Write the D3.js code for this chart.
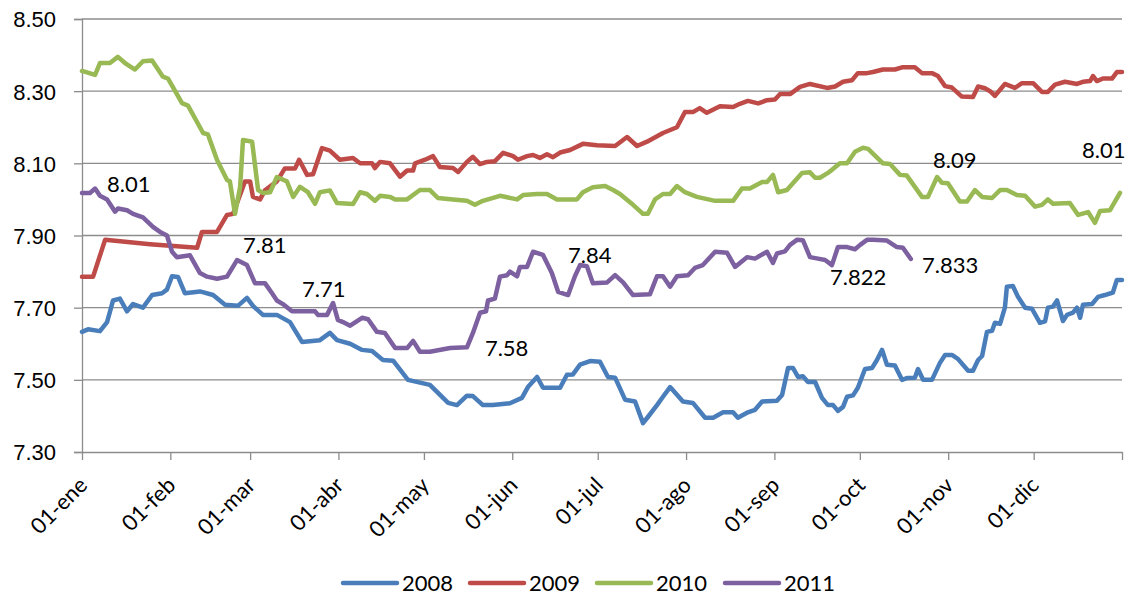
<!DOCTYPE html>
<html lang="es">
<head>
<meta charset="UTF-8">
<title>Tipo de cambio 2008-2011</title>
<script src="https://d3js.org/d3.v7.min.js"></script>
<style>
    body { margin: 0; background: #fff; }
    svg { display: block; font-family: Lato, "Open Sans", sans-serif; }
    .grid line { stroke: #8c8c8c; stroke-width: 1.3; }
    .axis path, .axis line { stroke: #8c8c8c; stroke-width: 1.3; }
    .axis text { font-size: 22px; fill: #000; }
    .serie { fill: none; stroke-width: 4.5; stroke-linejoin: round; stroke-linecap: round; }
    .etiqueta { font-size: 22px; fill: #000; }
    .leyenda text { font-size: 22px; fill: #000; }
</style>
</head>
<body>
<svg></svg>
<script>
    // x = day of year (0 = 01-ene), y = value
    const s2008 = [
        [0,7.633],[2.1,7.64],[6.3,7.635],[8.8,7.66],[10.9,7.72],[13.3,7.725],[15.8,7.69],[17.9,7.71],
        [21.4,7.70],[24.6,7.735],[28.1,7.74],[29.8,7.75],[31.6,7.787],[33.7,7.785],[36.1,7.74],[41.4,7.745],
        [46.0,7.735],[50.2,7.708],[54.7,7.705],[57.9,7.727],[60.0,7.705],[63.5,7.68],[68.4,7.68],[73.0,7.66],
        [77.2,7.605],[83.5,7.61],[87.0,7.63],[89.5,7.61],[94.1,7.60],[98.3,7.583],[101.8,7.58],[105.6,7.555],
        [109.2,7.553],[114.4,7.50],[122.1,7.486],[128.5,7.436],[131.6,7.43],[135.1,7.456],[137.2,7.455],
        [140.7,7.43],[144.2,7.43],[150.2,7.435],[154.4,7.45],[156.5,7.48],[159.7,7.508],[161.8,7.478],
        [167.8,7.478],[170.2,7.514],[172.3,7.515],[174.8,7.542],[178.3,7.552],[181.8,7.55],[184.6,7.508],
        [187.1,7.506],[190.6,7.445],[194.1,7.44],[196.9,7.38],[198.6,7.397],[201.8,7.43],[203.9,7.453],
        [206.4,7.48],[210.9,7.44],[214.4,7.436],[218.7,7.395],[221.5,7.395],[225.0,7.41],[228.5,7.41],
        [230.2,7.395],[233.7,7.41],[236.2,7.417],[238.7,7.44],[243.9,7.442],[245.7,7.458],[247.8,7.533],
        [249.5,7.533],[251.3,7.508],[253.0,7.51],[254.8,7.494],[257.3,7.494],[259.7,7.45],[261.8,7.43],
        [263.6,7.43],[265.3,7.414],[267.1,7.425],[268.5,7.453],[270.6,7.457],[272.3,7.478],[274.8,7.53],
        [277.3,7.533],[279.0,7.555],[280.8,7.583],[282.5,7.542],[285.3,7.54],[287.8,7.50],[289.5,7.505],
        [292.3,7.506],[293.4,7.53],[295.2,7.50],[298.3,7.50],[301.1,7.547],[302.9,7.569],[305.3,7.569],
        [307.4,7.558],[311.0,7.525],[312.7,7.525],[314.5,7.555],[315.9,7.566],[317.6,7.633],[319.4,7.636],
        [320.4,7.658],[322.2,7.655],[323.9,7.70],[324.6,7.758],[326.7,7.76],[328.5,7.73],[331.0,7.70],
        [333.4,7.697],[336.2,7.658],[338.0,7.662],[339.0,7.70],[340.8,7.703],[342.2,7.72],[344.3,7.663],
        [345.7,7.68],[347.8,7.686],[349.2,7.70],[350.3,7.672],[351.3,7.708],[354.5,7.71],[356.6,7.73],
        [359.0,7.735],[361.8,7.742],[363.2,7.777],[365,7.777]
    ];
    const s2009 = [
        [0,7.786],[3.9,7.786],[8.1,7.888],[23.9,7.876],[40.4,7.866],[42.1,7.91],[47.4,7.91],[50.9,7.957],
        [53.0,7.96],[57.2,8.05],[59.0,8.05],[60.0,8.007],[62.5,8.0],[64.2,8.025],[68.4,8.05],[71.2,8.086],
        [74.8,8.086],[76.2,8.11],[79.0,8.068],[81.1,8.07],[84.2,8.142],[87.0,8.135],[90.5,8.11],[95.1,8.115],
        [97.6,8.10],[101.8,8.10],[102.8,8.087],[104.6,8.104],[108.1,8.10],[111.6,8.063],[114.1,8.08],
        [116.2,8.08],[116.9,8.10],[120.4,8.11],[123.2,8.12],[125.6,8.09],[130.2,8.087],[132.0,8.076],
        [135.1,8.104],[137.2,8.118],[139.7,8.098],[142.1,8.104],[144.9,8.106],[147.8,8.129],[151.3,8.12],
        [153.0,8.11],[156.2,8.12],[158.3,8.123],[160.7,8.115],[163.2,8.125],[165.3,8.117],[167.8,8.13],
        [171.3,8.137],[175.8,8.154],[180.7,8.15],[187.1,8.148],[191.3,8.173],[194.8,8.148],[198.3,8.16],
        [203.9,8.184],[208.8,8.20],[211.6,8.242],[214.4,8.242],[216.8,8.253],[219.3,8.24],[223.9,8.258],
        [228.5,8.256],[230.9,8.265],[233.7,8.273],[237.3,8.266],[240.4,8.275],[243.2,8.277],[245.0,8.292],
        [248.5,8.292],[252.0,8.312],[255.5,8.32],[261.5,8.309],[264.3,8.313],[267.1,8.326],[270.2,8.33],
        [272.3,8.35],[275.5,8.35],[277.6,8.353],[281.1,8.36],[285.3,8.36],[287.8,8.366],[292.3,8.366],
        [294.8,8.35],[298.3,8.35],[300.4,8.342],[302.9,8.314],[305.3,8.31],[308.8,8.285],[312.7,8.284],
        [314.5,8.313],[316.9,8.308],[318.7,8.30],[320.4,8.287],[323.9,8.32],[327.4,8.309],[329.9,8.322],
        [333.8,8.322],[336.9,8.298],[339.0,8.298],[341.5,8.318],[345.0,8.326],[349.2,8.32],[351.3,8.326],
        [353.8,8.328],[354.8,8.342],[356.2,8.328],[358.3,8.335],[361.5,8.335],[363.2,8.353],[365,8.353]
    ];
    const s2010 = [
        [0,8.356],[4.6,8.345],[6.3,8.378],[9.8,8.378],[12.6,8.395],[15.1,8.378],[18.6,8.36],[21.4,8.383],
        [24.6,8.385],[28.4,8.34],[30.2,8.335],[35.1,8.267],[37.2,8.26],[42.5,8.184],[44.2,8.18],[47.4,8.109],
        [50.9,8.054],[51.9,8.05],[53.7,7.96],[55.5,8.035],[56.5,8.165],[59.7,8.16],[61.8,8.026],[63.5,8.018],
        [66.0,8.02],[68.4,8.062],[71.9,8.05],[74.1,8.007],[76.5,8.035],[79.3,8.02],[81.8,7.988],[83.5,8.02],
        [87.0,8.025],[89.5,7.99],[95.1,7.987],[97.6,8.02],[100.0,8.015],[102.8,7.996],[104.6,8.01],
        [108.1,8.007],[109.9,8.0],[114.1,8.0],[118.6,8.026],[122.1,8.026],[124.9,8.004],[130.2,8.0],
        [135.1,7.996],[137.9,7.985],[140.7,7.996],[146.7,8.01],[152.7,8.0],[154.8,8.012],[159.7,8.015],
        [163.2,8.015],[166.7,8.0],[173.7,8.0],[175.8,8.02],[179.3,8.034],[183.6,8.037],[186.4,8.026],
        [188.8,8.015],[193.4,7.985],[196.9,7.96],[198.6,7.96],[201.1,8.0],[203.9,8.015],[206.4,8.015],
        [208.8,8.037],[211.6,8.02],[215.8,8.007],[222.2,7.996],[228.5,7.996],[231.6,8.03],[234.4,8.03],
        [238.7,8.048],[240.4,8.048],[242.5,8.068],[244.3,8.02],[247.4,8.026],[249.5,8.045],[252.7,8.073],
        [255.5,8.075],[257.3,8.06],[259.0,8.06],[261.5,8.072],[263.2,8.082],[266.0,8.10],[268.5,8.10],
        [271.3,8.132],[274.1,8.143],[275.9,8.14],[281.1,8.10],[283.6,8.098],[287.1,8.068],[289.5,8.066],
        [294.8,8.007],[296.9,8.007],[300.1,8.062],[301.8,8.046],[303.9,8.045],[308.1,7.994],[310.6,7.994],
        [313.4,8.026],[315.9,8.007],[319.4,8.004],[322.2,8.026],[324.6,8.026],[328.1,8.012],[331.0,8.01],
        [334.5,7.98],[336.9,7.985],[339.0,8.0],[340.8,7.988],[346.7,7.99],[349.6,7.957],[353.1,7.965],
        [355.5,7.935],[357.3,7.968],[360.8,7.97],[364.3,8.018]
    ];
    const s2011 = [
        [0,8.018],[2.8,8.018],[4.6,8.03],[6.3,8.01],[8.8,8.0],[11.6,7.966],[12.6,7.975],[15.8,7.97],
        [17.9,7.96],[21.4,7.95],[24.9,7.924],[27.4,7.91],[29.8,7.90],[31.6,7.855],[33.3,7.84],[37.9,7.845],
        [41.4,7.796],[43.9,7.786],[47.4,7.78],[50.9,7.786],[54.4,7.832],[57.9,7.818],[60.7,7.768],
        [64.2,7.768],[66.7,7.74],[68.4,7.72],[70.5,7.71],[73.7,7.69],[81.8,7.69],[82.8,7.68],[86.0,7.68],
        [88.1,7.713],[89.8,7.666],[91.6,7.66],[94.1,7.65],[98.3,7.672],[100.4,7.668],[103.5,7.633],
        [106.3,7.63],[109.9,7.588],[114.1,7.588],[116.2,7.608],[118.6,7.578],[122.1,7.578],[129.2,7.588],
        [135.1,7.59],[137.2,7.63],[139.7,7.686],[141.8,7.69],[142.5,7.72],[144.9,7.725],[146.7,7.786],
        [149.2,7.79],[150.2,7.80],[152.7,7.787],[153.7,7.813],[156.2,7.813],[158.3,7.855],[161.8,7.846],
        [164.9,7.796],[167.1,7.744],[170.6,7.735],[173.0,7.787],[174.8,7.818],[177.2,7.815],[179.3,7.768],
        [184.3,7.77],[187.1,7.79],[189.9,7.77],[193.4,7.735],[199.3,7.737],[201.8,7.787],[203.9,7.787],
        [206.4,7.758],[208.8,7.787],[212.7,7.79],[215.1,7.81],[217.9,7.818],[222.2,7.855],[226.4,7.852],
        [229.2,7.813],[230.9,7.824],[233.4,7.84],[236.2,7.836],[240.4,7.855],[242.5,7.824],[243.9,7.85],
        [246.7,7.856],[248.5,7.874],[250.9,7.888],[253.0,7.887],[255.5,7.84],[258.3,7.836],[260.8,7.832],
        [263.2,7.818],[265.3,7.868],[268.5,7.868],[271.3,7.862],[273.1,7.874],[275.5,7.888],[277.6,7.888],
        [282.5,7.886],[286.0,7.868],[288.1,7.866],[290.9,7.835]
    ];

    const seriesNames = ["2008", "2009", "2010", "2011"];
    const seriesColors = ["#4a7ebb", "#be4b48", "#98b954", "#7d60a0"];
    const monthLabels = ["01-ene", "01-feb", "01-mar", "01-abr", "01-may", "01-jun",
                         "01-jul", "01-ago", "01-sep", "01-oct", "01-nov", "01-dic"];
    const monthStarts = [0, 31, 59, 90, 120, 151, 181, 212, 243, 273, 304, 334, 365];
    const yTicks = [7.30, 7.50, 7.70, 7.90, 8.10, 8.30, 8.50];

    // text labels: [text, day, value] at the text's baseline start
    const labels = [
        ["8.01", 8.8, 8.021], ["7.81", 56.5, 7.852], ["7.71", 77.2, 7.730],
        ["7.58", 141.4, 7.567], ["7.84", 170.6, 7.824], ["7.822", 262.5, 7.763],
        ["7.833", 294.8, 7.796], ["8.09", 298.7, 8.087], ["8.01", 351.0, 8.115]
    ];

    const width = 1132, height = 598;
    const margin = { top: 19, right: 10, bottom: 146, left: 82 };

    const svg = d3.select("svg").attr("width", width).attr("height", height);

    const x = d3.scaleLinear().domain([0, 365]).range([margin.left, width - margin.right]);
    const y = d3.scaleLinear().domain([7.30, 8.50]).range([height - margin.bottom, margin.top]);

    // horizontal gridlines
    svg.append("g")
        .attr("class", "grid")
        .selectAll("line")
        .data(yTicks.slice(1))
        .enter().append("line")
        .attr("x1", x(0)).attr("x2", x(365))
        .attr("y1", d => y(d)).attr("y2", d => y(d));

    // y axis
    const yAxis = svg.append("g")
        .attr("class", "axis")
        .attr("transform", `translate(${x(0)},0)`)
        .call(d3.axisLeft(y).tickValues(yTicks).tickFormat(d3.format(".2f")).tickSize(8).tickPadding(18));
    yAxis.selectAll("text").attr("dy", "0.36em");

    // x axis
    const xAxis = svg.append("g")
        .attr("class", "axis")
        .attr("transform", `translate(0,${y(7.30)})`)
        .call(d3.axisBottom(x).tickValues(monthStarts).tickFormat("").tickSize(8).tickSizeOuter(0));

    svg.append("g")
        .attr("class", "axis")
        .selectAll("text")
        .data(monthLabels)
        .enter().append("text")
        .attr("text-anchor", "end")
        .attr("dy", "0.36em")
        .attr("transform", (d, i) => `translate(${x(monthStarts[i]) + 1},${y(7.30) + 29}) rotate(-45)`)
        .text(d => d);

    // series lines
    const line = d3.line().x(d => x(d[0])).y(d => y(d[1]));
    const allSeries = [s2008, s2009, s2010, s2011];

    svg.append("g")
        .selectAll("path")
        .data(allSeries)
        .enter().append("path")
        .attr("class", "serie")
        .attr("stroke", (d, i) => seriesColors[i])
        .attr("d", line);

    // value labels
    svg.append("g")
        .selectAll("text")
        .data(labels)
        .enter().append("text")
        .attr("class", "etiqueta")
        .attr("x", d => x(d[1]))
        .attr("y", d => y(d[2]))
        .text(d => d[0]);

    // legend
    const legendX = [343, 470, 597, 725];
    const legend = svg.append("g").attr("class", "leyenda");
    const item = legend.selectAll("g")
        .data(seriesNames)
        .enter().append("g")
        .attr("transform", (d, i) => `translate(${legendX[i]},583)`);
    item.append("line")
        .attr("x1", 0).attr("x2", 54)
        .attr("stroke-width", 4.5)
        .attr("stroke-linecap", "round")
        .attr("stroke", (d, i) => seriesColors[i]);
    item.append("text")
        .attr("x", 59)
        .attr("dy", "0.36em")
        .text(d => d);
</script>
</body>
</html>
